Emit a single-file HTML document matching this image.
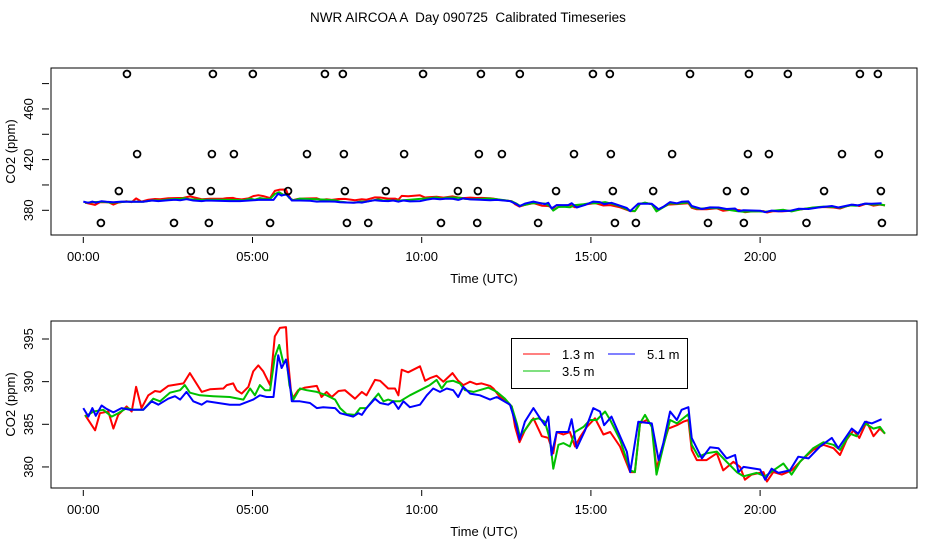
<!DOCTYPE html>
<html><head><meta charset="utf-8">
<style>
html,body{margin:0;padding:0;background:#fff;}
svg{display:block;font-family:"Liberation Sans",Arial,sans-serif;}
</style></head>
<body>
<svg id="chart" width="936" height="540" viewBox="0 0 936 540">
<text x="468" y="22" text-anchor="middle" font-size="13.5" style="white-space:pre" xml:space="preserve">NWR AIRCOA A  Day 090725  Calibrated Timeseries</text>
</svg>
<script>
const redT=[0.05,0.35,0.49,0.74,0.89,1.03,1.28,1.43,1.56,1.72,1.92,2.12,2.27,2.51,2.96,3.15,3.50,3.74,4.14,4.24,4.43,4.53,4.68,4.88,5.02,5.17,5.32,5.52,5.66,5.81,5.99,6.04,6.16,6.35,6.55,6.90,7.04,7.19,7.34,7.54,7.73,8.03,8.23,8.37,8.62,8.77,9.01,9.21,9.31,9.41,9.60,9.95,10.10,10.24,10.44,10.64,10.91,11.08,11.23,11.43,11.62,11.77,12.02,12.12,12.31,12.46,12.66,12.76,12.89,13.05,13.30,13.55,13.74,13.89,13.99,14.19,14.38,14.53,14.68,14.88,15.12,15.37,15.57,15.86,16.16,16.30,16.45,16.65,16.80,16.94,17.09,17.29,17.54,17.73,17.88,17.98,18.13,18.42,18.72,18.91,19.21,19.41,19.55,19.75,20.10,20.20,20.39,20.64,20.93,21.23,21.57,21.87,22.17,22.36,22.56,22.76,22.93,23.15,23.35,23.54,23.69];
const redV=[386.1,384.3,386.3,386.5,384.5,386.1,387.1,386.5,389.4,386.9,388.4,388.9,388.8,389.5,389.8,391.0,388.8,389.1,389.2,389.6,389.8,389.0,388.6,389.4,391.2,391.9,391.2,389.6,395.3,396.3,396.4,392.9,387.9,389.0,389.3,389.5,388.2,388.8,388.2,388.9,389.0,388.0,388.8,388.4,390.2,390.1,389.2,389.2,388.4,391.4,391.1,391.8,390.1,390.4,390.7,390.0,391.0,390.1,389.6,390.0,389.7,389.8,389.5,389.2,388.2,387.8,387.1,384.7,382.9,384.3,385.7,383.6,383.4,381.6,384.1,383.8,384.1,382.4,383.5,384.7,385.7,383.8,384.1,382.4,379.4,379.4,385.1,385.5,384.9,379.8,382.0,384.5,384.9,385.3,385.5,382.0,380.8,380.8,381.6,379.6,380.6,380.0,378.5,379.1,379.4,378.3,379.4,379.1,379.6,380.8,382.0,382.6,382.2,381.4,383.2,384.3,383.4,385.3,383.6,384.5,383.9];
const greenT=[0.05,0.30,0.59,0.84,1.03,1.28,1.48,1.77,2.07,2.27,2.56,2.86,3.00,3.15,3.45,3.84,4.33,4.73,4.93,5.07,5.22,5.37,5.52,5.66,5.79,5.91,6.01,6.09,6.21,6.40,6.60,6.90,7.19,7.44,7.59,7.78,8.03,8.18,8.37,8.57,8.72,8.87,9.01,9.16,9.36,9.65,9.95,10.24,10.44,10.59,10.74,10.93,11.13,11.28,11.53,11.97,12.22,12.46,12.66,12.81,12.90,13.05,13.25,13.45,13.64,13.79,13.89,14.04,14.19,14.38,14.53,14.78,14.97,15.17,15.42,15.57,15.86,16.16,16.30,16.45,16.60,16.80,16.94,17.14,17.34,17.54,17.88,17.98,18.18,18.42,18.72,18.96,19.31,19.51,19.90,20.15,20.39,20.69,20.93,21.18,21.57,21.87,22.17,22.36,22.66,22.85,23.10,23.35,23.54,23.69];
const greenV=[385.9,386.5,386.7,385.9,386.3,386.9,386.7,386.7,388.0,387.7,388.7,389.0,389.6,388.7,388.4,388.3,388.2,387.9,389.2,388.4,389.6,389.0,389.0,392.9,394.3,392.2,392.4,389.6,387.9,389.2,389.0,388.8,388.4,387.9,386.9,386.2,386.1,386.9,386.9,387.9,388.6,387.7,387.9,387.7,387.7,388.4,389.0,389.6,390.2,389.2,390.0,390.1,389.8,389.0,388.8,389.3,388.8,388.0,387.1,385.1,383.6,384.3,385.5,385.7,385.3,383.2,379.8,382.6,382.8,382.4,384.1,384.7,385.5,385.5,386.5,385.5,383.2,379.6,379.4,385.1,386.1,384.7,379.1,382.4,385.5,385.1,386.2,382.6,381.2,381.6,381.8,380.8,379.4,378.9,379.3,378.9,379.6,380.4,379.1,380.6,382.2,382.9,382.6,382.0,383.9,383.6,385.1,384.5,384.7,383.9];
const blueT=[0.0,0.15,0.27,0.37,0.54,0.69,0.89,1.13,1.38,1.77,2.02,2.22,2.51,2.71,2.86,3.05,3.25,3.50,3.65,4.33,4.63,5.02,5.22,5.42,5.62,5.76,5.86,5.99,6.09,6.16,6.40,6.70,6.90,7.09,7.44,7.59,7.98,8.13,8.23,8.37,8.62,8.77,9.01,9.16,9.31,9.46,9.65,9.95,10.15,10.34,10.54,10.74,10.93,11.08,11.23,11.43,11.72,12.02,12.22,12.61,12.81,12.89,13.05,13.30,13.50,13.64,13.74,13.84,13.99,14.33,14.43,14.58,14.83,15.07,15.27,15.39,15.61,16.06,16.16,16.40,16.60,16.80,17.00,17.14,17.34,17.54,17.68,17.88,17.98,18.28,18.52,18.77,19.01,19.26,19.36,19.51,20.00,20.15,20.34,20.54,20.88,21.13,21.43,21.77,22.12,22.31,22.71,22.90,23.10,23.30,23.59];
const blueV=[386.9,385.9,386.9,386.0,387.2,386.8,386.4,386.9,386.7,386.7,387.7,387.3,388.0,388.3,387.9,388.8,387.7,387.3,387.7,387.3,387.3,387.9,388.4,388.2,388.2,393.1,391.6,392.6,390.2,387.7,387.7,387.5,386.9,387.0,386.9,386.3,385.9,386.3,386.1,386.9,388.0,387.5,387.3,387.7,386.8,387.7,387.0,387.3,388.4,389.2,388.8,389.2,389.0,388.2,389.4,388.6,388.4,387.9,388.2,387.3,384.7,383.2,385.3,386.9,385.7,384.9,385.9,381.4,384.1,384.1,385.6,382.2,384.3,386.9,386.5,384.9,385.9,381.8,379.4,385.3,385.2,385.1,380.8,382.8,386.5,385.5,386.7,387.0,383.4,381.0,382.3,382.2,381.0,381.4,379.4,380.0,379.7,378.5,379.8,379.3,379.6,381.2,381.0,382.4,383.4,382.2,384.5,383.9,385.3,385.1,385.6];
const flagT=[1.29,3.83,5.01,7.14,7.67,10.04,11.75,12.90,15.06,15.56,17.93,19.67,20.82,22.95,23.48,
1.59,3.80,4.45,6.61,7.70,9.48,11.69,12.37,14.50,15.59,17.40,19.64,20.26,22.42,23.51,
1.05,3.18,3.77,6.05,7.73,8.94,11.07,11.66,13.97,15.65,16.84,19.02,19.55,21.89,23.57,
0.52,2.68,3.71,5.52,7.79,8.42,10.57,11.64,13.44,15.71,16.33,18.46,19.52,21.37,23.60];
const flagV=[487.6,487.6,487.6,487.6,487.6,487.6,487.6,487.6,487.6,487.6,487.6,487.6,487.6,487.6,487.6,
424.4,424.4,424.4,424.4,424.4,424.4,424.4,424.4,424.4,424.4,424.4,424.4,424.4,424.4,424.4,
395.2,395.2,395.2,395.2,395.2,395.2,395.2,395.2,395.2,395.2,395.2,395.2,395.2,395.2,395.2,
370.0,370.0,370.0,370.0,370.0,370.0,370.0,370.0,370.0,370.0,370.0,370.0,370.0,370.0,370.0];
const xTickHours=[0,5,10,15,20];
const xTickLabels=["00:00","05:00","10:00","15:00","20:00"];
const topYTicks=[380,400,420,440,460,480];
const topYLabels=[380,420,460];
const botYTicks=[380,385,390,395];

const NS="http://www.w3.org/2000/svg";
const svg=document.getElementById('chart');
function el(tag,attrs,parent){const e=document.createElementNS(NS,tag);for(const k in attrs)e.setAttribute(k,attrs[k]);(parent||svg).appendChild(e);return e;}
const X0=51,X1=917;
function xs(t){return 83.3+t*33.84;}
const panels=[
 {name:'top',y0:68,y1:235,ys:v=>210.3-(v-380)*1.267,ticks:topYTicks,labels:topYLabels},
 {name:'bottom',y0:321,y1:488,ys:v=>424.3-(v-385)*8.53,ticks:botYTicks,labels:botYTicks}
];
const series=[{n:'1.3m',t:redT,v:redV,c:'#ff0000'},{n:'3.5m',t:greenT,v:greenV,c:'#00c000'},{n:'5.1m',t:blueT,v:blueV,c:'#0000ff'}];
panels.forEach(p=>{
 const g=el('g',{});
 
 
 const clipId='clip-'+p.name;
 const cp=el('clipPath',{id:clipId},g);
 el('rect',{x:X0,y:p.y0,width:X1-X0,height:p.y1-p.y0},cp);
 const box=el('rect',{x:X0,y:p.y0,width:X1-X0,height:p.y1-p.y0,fill:'none',stroke:'#000','stroke-width':1},g);
 
 
 xTickHours.forEach((h,i)=>{
  const x=xs(h);
  el('line',{x1:x,x2:x,y1:p.y1+2,y2:p.y1+8,stroke:'#000'},g);
  const tx=el('text',{x:x,y:p.y1+26,'text-anchor':'middle','font-size':13},g);
  tx.textContent=xTickLabels[i];
  
  
 });
 const xt=el('text',{x:484,y:p.y1+48,'text-anchor':'middle','font-size':13},g);
 xt.textContent='Time (UTC)';
 
 
 p.ticks.forEach(v=>{
  const y=p.ys(v);
  el('line',{x1:X0-9,x2:X0-2,y1:y,y2:y,stroke:'#000'},g);
 });
 p.labels.forEach(v=>{
  const y=p.ys(v);
  const tx=el('text',{x:0,y:0,'text-anchor':'middle','font-size':13,transform:'translate(33,'+y+') rotate(-90)'},g);
  tx.textContent=String(v);
  
  
 });
 const yt=el('text',{x:0,y:0,'text-anchor':'middle','font-size':13,transform:'translate(15,'+((p.y0+p.y1)/2)+') rotate(-90)'},g);
 yt.textContent='CO2 (ppm)';
 
 
 const dg=el('g',{'clip-path':'url(#'+clipId+')'},g);
 series.forEach(s=>{
  const d=s.t.map((t,i)=>(i?'L':'M')+xs(t).toFixed(1)+','+p.ys(s.v[i]).toFixed(1)).join('');
  const path=el('path',{d:d,fill:'none',stroke:s.c,'stroke-width':2,'stroke-linejoin':'round'},dg);
  
  
 });
 if(p.name==='top'){
  flagT.forEach((t,i)=>{
   const c=el('circle',{cx:xs(t),cy:p.ys(flagV[i]),r:3.4,fill:'none',stroke:'#000','stroke-width':1.8},g);
   
   
  });
 }
});
// legend
const lg=el('g',{});


el('rect',{x:511.5,y:338.5,width:176,height:50,fill:'#fff',stroke:'#000'},lg);
const entries=[{c:'#ff0000',l:'1.3 m',x:523,y:354},{c:'#0000ff',l:'5.1 m',x:608,y:354},{c:'#00c000',l:'3.5 m',x:523,y:371}];
entries.forEach(e=>{
 const li=el('line',{x1:e.x,x2:e.x+27,y1:e.y,y2:e.y,stroke:e.c,'stroke-width':1},lg);
 
 
 const tx=el('text',{x:e.x+39,y:e.y+5,'font-size':13},lg);
 tx.textContent=e.l;
 
 
});
</script>
</body></html>
